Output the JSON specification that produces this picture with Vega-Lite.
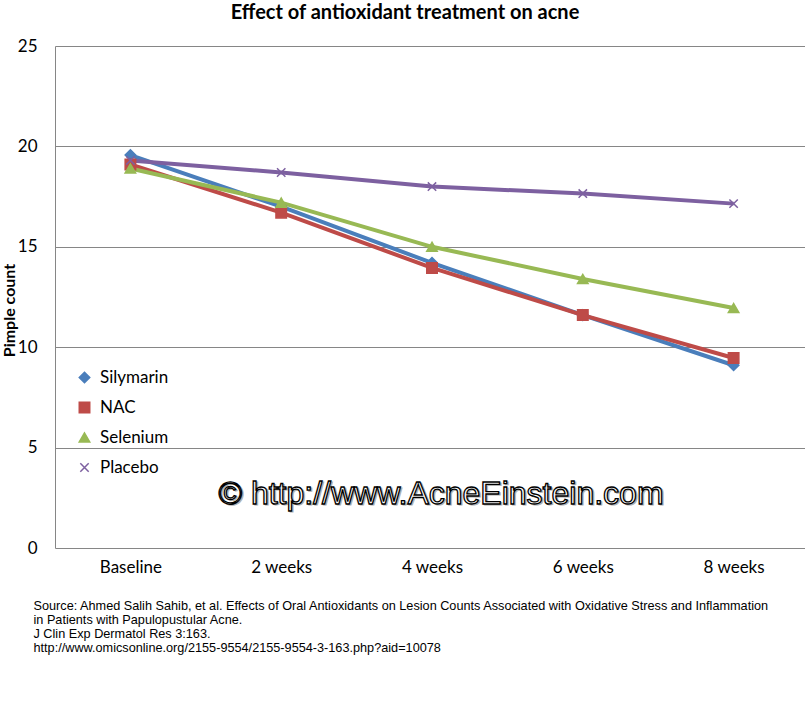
{
  "$schema": "https://vega.github.io/schema/vega-lite/v6.json",
  "width": 754,
  "height": 502,
  "autosize": {"type": "none"},
  "padding": {"left": 55, "top": 46, "right": 0, "bottom": 154},
  "background": "white",
  "title": {
    "text": "Effect of antioxidant treatment on acne",
    "font": "Lato",
    "fontSize": 20,
    "fontWeight": "bold",
    "color": "black",
    "anchor": "middle",
    "dx": -27,
    "offset": 14
  },
  "config": {"view": {"stroke": null}},
  "layer": [
    {
      "data": {"values": [
        {"series": "Silymarin", "time": "Baseline", "value": 19.57},
        {"series": "Silymarin", "time": "2 weeks", "value": 17.0},
        {"series": "Silymarin", "time": "4 weeks", "value": 14.2},
        {"series": "Silymarin", "time": "6 weeks", "value": 11.6},
        {"series": "Silymarin", "time": "8 weeks", "value": 9.1},
        {"series": "NAC", "time": "Baseline", "value": 19.1},
        {"series": "NAC", "time": "2 weeks", "value": 16.7},
        {"series": "NAC", "time": "4 weeks", "value": 13.95},
        {"series": "NAC", "time": "6 weeks", "value": 11.6},
        {"series": "NAC", "time": "8 weeks", "value": 9.46},
        {"series": "Selenium", "time": "Baseline", "value": 18.9},
        {"series": "Selenium", "time": "2 weeks", "value": 17.2},
        {"series": "Selenium", "time": "4 weeks", "value": 15.0},
        {"series": "Selenium", "time": "6 weeks", "value": 13.4},
        {"series": "Selenium", "time": "8 weeks", "value": 11.95},
        {"series": "Placebo", "time": "Baseline", "value": 19.3},
        {"series": "Placebo", "time": "2 weeks", "value": 18.7},
        {"series": "Placebo", "time": "4 weeks", "value": 18.0},
        {"series": "Placebo", "time": "6 weeks", "value": 17.65},
        {"series": "Placebo", "time": "8 weeks", "value": 17.15}
      ]},
      "encoding": {
        "x": {
          "field": "time",
          "type": "ordinal",
          "sort": ["Baseline", "2 weeks", "4 weeks", "6 weeks", "8 weeks"],
          "scale": {"type": "point", "padding": 0.5},
          "axis": {
            "domain": false,
            "ticks": false,
            "grid": false,
            "labelAngle": 0,
            "labelFont": "Lato",
            "labelFontSize": 17,
            "labelColor": "black",
            "labelPadding": 11,
            "title": [
              "Source: Ahmed Salih Sahib, et al. Effects of Oral Antioxidants on Lesion Counts Associated with Oxidative Stress and Inflammation",
              "in Patients with Papulopustular Acne.",
              "J Clin Exp Dermatol Res 3:163.",
              "http://www.omicsonline.org/2155-9554/2155-9554-3-163.php?aid=10078"
            ],
            "titleFont": "Liberation Sans",
            "titleFontSize": 12.7,
            "titleFontWeight": "normal",
            "titleColor": "black",
            "titleAlign": "left",
            "titleAnchor": "start",
            "titleBaseline": "top",
            "titleLineHeight": 14.3,
            "titleX": -22,
            "titleY": 51
          }
        },
        "y": {
          "field": "value",
          "type": "quantitative",
          "scale": {"domain": [0, 25], "nice": false},
          "axis": {
            "values": [0, 5, 10, 15, 20, 25],
            "grid": true,
            "gridColor": "#868686",
            "gridWidth": 1,
            "domain": true,
            "domainColor": "#868686",
            "ticks": false,
            "labelFont": "Lato",
            "labelFontSize": 17,
            "labelColor": "black",
            "labelPadding": 18,
            "title": "Pimple count",
            "titleFont": "Lato",
            "titleFontSize": 16,
            "titleFontWeight": "bold",
            "titleColor": "black",
            "titleX": -38,
            "titleY": 264
          }
        },
        "color": {
          "field": "series",
          "type": "nominal",
          "scale": {
            "domain": ["Silymarin", "NAC", "Selenium", "Placebo"],
            "range": ["#4a7ebb", "#be4b48", "#98b954", "#7d60a0"]
          },
          "legend": {
            "title": null,
            "orient": "none",
            "legendX": 21,
            "legendY": 323,
            "labelFont": "Lato",
            "labelFontSize": 17,
            "labelColor": "black",
            "labelOffset": 7,
            "rowPadding": 12,
            "symbolSize": 110,
            "symbolStrokeWidth": 1.5
          }
        }
      },
      "layer": [
        {
          "mark": {"type": "line", "strokeWidth": 4}
        },
        {
          "mark": {"type": "point", "filled": true, "size": 110, "strokeWidth": 1.5, "opacity": 1},
          "encoding": {
            "stroke": {"field": "series", "type": "nominal", "scale": {
              "domain": ["Silymarin", "NAC", "Selenium", "Placebo"],
              "range": ["#4a7ebb", "#be4b48", "#98b954", "#7d60a0"]
            }, "legend": null},
            "shape": {
              "field": "series",
              "type": "nominal",
              "scale": {
                "domain": ["Silymarin", "NAC", "Selenium", "Placebo"],
                "range": ["diamond", "square", "triangle-up", "M-0.8,-0.8L0.8,0.8M-0.8,0.8L0.8,-0.8"]
              },
              "legend": null
            }
          }
        }
      ]
    },
    {
      "data": {"values": [{"label": "© http://www.AcneEinstein.com", "time": "4 weeks", "value": 2.7}]},
      "encoding": {
        "text": {"field": "label", "type": "nominal"},
        "x": {"field": "time", "type": "ordinal", "sort": ["Baseline", "2 weeks", "4 weeks", "6 weeks", "8 weeks"]},
        "y": {"field": "value", "type": "quantitative"}
      },
      "layer": [
        {
          "mark": {
            "type": "text",
            "font": "Liberation Sans",
            "fontSize": 32,
            "fill": "#b0b0b0",
            "stroke": "#b0b0b0",
            "strokeWidth": 1,
            "align": "center",
            "baseline": "middle",
            "dx": 10.5,
            "dy": 1.5
          }
        },
        {
          "mark": {
            "type": "text",
            "font": "Liberation Sans",
            "fontSize": 32,
            "fill": "white",
            "stroke": "black",
            "strokeWidth": 1.3,
            "align": "center",
            "baseline": "middle",
            "dx": 9
          }
        }
      ]
    }
  ]
}
